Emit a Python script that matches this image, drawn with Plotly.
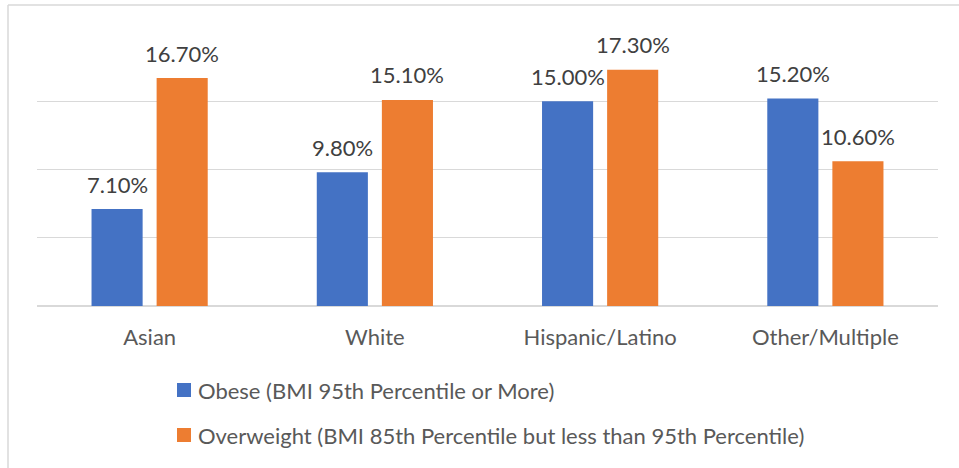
import plotly.graph_objects as go

# Data
categories = ["Asian", "White", "Hispanic/Latino", "Other/Multiple"]
obese = [7.1, 9.8, 15.0, 15.2]
overweight = [16.7, 15.1, 17.3, 10.6]
series_names = [
    "Obese (BMI 95th Percentile or More)",
    "Overweight (BMI 85th Percentile but less than 95th Percentile)",
]
colors = ["#4472C4", "#ED7D31"]

W, H = 959, 468
ML, MR, MT, MB = 37, 21, 33, 162
plot_w = W - ML - MR
plot_h = H - MT - MB

FONT = "Lato, Carlito, Calibri, sans-serif"
FS = 22
LABEL_COLOR = "#404040"
AXIS_COLOR = "#595959"
GRID = "#D9D9D9"

BARGAP = 0.422
BARGROUPGAP = 0.215

fig = go.Figure()
for name, vals, col in zip(series_names, [obese, overweight], colors):
    fig.add_trace(go.Bar(x=categories, y=vals, name=name, marker_color=col,
                         marker_line_width=0, showlegend=False))

# value labels above each bar
slot_px = (1 - BARGAP) * plot_w / len(categories) / 2
annotations = []
for i, vals in enumerate([obese, overweight]):
    shift = (i - 0.5) * slot_px
    for c, v in zip(categories, vals):
        annotations.append(dict(
            x=c, y=v, xref="x", yref="y", xshift=shift, yshift=25,
            text=f"{v:.2f}%", showarrow=False, yanchor="middle",
            font=dict(family=FONT, size=FS, color=LABEL_COLOR)))

# legend drawn beneath the plot
def px_x(p):
    return (p - ML) / plot_w

def px_y(p):
    return (H - MB - p) / plot_h

shapes = []
legend_rows = [390, 435]
for name, col, yc in zip(series_names, colors, legend_rows):
    shapes.append(dict(type="rect", xref="paper", yref="paper",
                       x0=px_x(177), x1=px_x(191), y0=px_y(yc + 7), y1=px_y(yc - 7),
                       fillcolor=col, line_width=0))
    annotations.append(dict(x=px_x(196), y=px_y(yc), xref="paper", yref="paper",
                            text=name, showarrow=False, xanchor="left", yanchor="middle",
                            font=dict(family=FONT, size=FS, color=AXIS_COLOR)))

# chart frame (top and left edges)
shapes.append(dict(type="line", xref="paper", yref="paper",
                   x0=px_x(8), x1=px_x(W), y0=px_y(5), y1=px_y(5),
                   line=dict(color=GRID, width=1.5)))
shapes.append(dict(type="line", xref="paper", yref="paper",
                   x0=px_x(8), x1=px_x(8), y0=px_y(5), y1=px_y(H),
                   line=dict(color=GRID, width=1.5)))

fig.update_layout(
    width=W, height=H,
    margin=dict(l=ML, r=MR, t=MT, b=MB),
    paper_bgcolor="white", plot_bgcolor="white",
    barmode="group", bargap=BARGAP, bargroupgap=BARGROUPGAP,
    annotations=annotations, shapes=shapes,
    xaxis=dict(showgrid=False, showline=False, ticks="",
               tickfont=dict(family=FONT, size=FS, color=AXIS_COLOR),
               ticklabelstandoff=16),
    yaxis=dict(range=[0, 20], dtick=5, showticklabels=False, gridcolor=GRID,
               gridwidth=1.3, zeroline=True, zerolinecolor=GRID, zerolinewidth=1.5,
               showline=False),
)

fig.write_html("out.html")
